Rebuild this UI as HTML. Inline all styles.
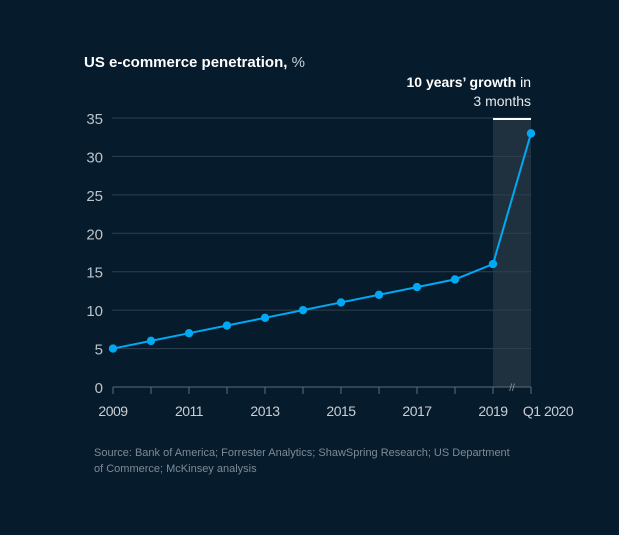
<!DOCTYPE html>
<html><head><meta charset="utf-8"><style>
body{margin:0;background:#061b2b;}
svg{display:block;font-family:"Liberation Sans",sans-serif;}
</style></head><body>
<svg width="619" height="535">
<rect width="619" height="535" fill="#061b2b"/>
<text x="84" y="67" fill="#fff" font-size="15" font-weight="bold">US e-commerce penetration,<tspan font-weight="normal" fill="#c9ced3"> %</tspan></text>
<text x="531" y="87" fill="#fff" font-size="14" text-anchor="end"><tspan font-weight="bold">10 years’ growth</tspan> in</text>
<text x="531" y="106" fill="#e6e9ec" font-size="14" text-anchor="end">3 months</text>
<g id="plot"></g>
<text x="94" y="456" fill="#7d8a95" font-size="11">Source: Bank of America; Forrester Analytics; ShawSpring Research; US Department</text>
<text x="94" y="472" fill="#7d8a95" font-size="11">of Commerce; McKinsey analysis</text>
</svg>
<script>
const categories=["2009","2010","2011","2012","2013","2014","2015","2016","2017","2018","2019","Q1 2020"];
const values=[5,6,7,8,9,10,11,12,13,14,16,33];
const yTicks=[0,5,10,15,20,25,30,35];
const xLabels=["2009","2011","2013","2015","2017","2019","Q1 2020"];
const NS="http://www.w3.org/2000/svg";
const g=document.getElementById('plot');
const x0=113,dx=38,y0=387,yTop=118,yMax=35;
const xs=i=>x0+i*dx;
const ys=v=>y0-(v/yMax)*(y0-yTop);
function mk(t,a){const e=document.createElementNS(NS,t);for(const k in a)e.setAttribute(k,a[k]);g.appendChild(e);return e;}
const n=categories.length;
let sh=mk('rect',{x:xs(n-2),y:yTop,width:dx,height:y0-yTop,fill:'#1f313f'});


yTicks.forEach(t=>{
 if(t>0){const l=mk('line',{x1:112,x2:xs(n-1),y1:ys(t),y2:ys(t),stroke:'#2f4150','stroke-width':1});
 
 }
 const tx=mk('text',{x:103,y:ys(t)+6,fill:'#bcc3c9','font-size':15,'text-anchor':'end'});
 tx.textContent=t;
 
 
});
let hl=mk('line',{x1:xs(n-2),x2:xs(n-1),y1:yTop+1,y2:yTop+1,stroke:'#fff','stroke-width':2});


let ax=mk('line',{x1:xs(0),x2:xs(n-1),y1:y0,y2:y0,stroke:'#5d6c78','stroke-width':1});


categories.forEach((c,i)=>{
 const tk=mk('line',{x1:xs(i),x2:xs(i),y1:y0,y2:y0+7,stroke:'#5d6c78','stroke-width':1});
 
 
 if(xLabels.includes(c)){
  const tx=mk('text',{x:xs(i)+(c==='Q1 2020'?17:0),y:416,fill:'#c9ced3','font-size':14,'text-anchor':'middle','letter-spacing':'-0.5'});
  tx.textContent=c;
  
  
 }
});
let br=mk('text',{x:(xs(n-2)+xs(n-1))/2,y:391,fill:'#8a98a3','font-size':10,'text-anchor':'middle'});
br.textContent='//';


let pl=mk('polyline',{points:values.map((v,i)=>xs(i)+','+ys(v)).join(' '),fill:'none',stroke:'#00a9f4','stroke-width':2});


values.forEach((v,i)=>{
 const c=mk('circle',{cx:xs(i),cy:ys(v),r:4.2,fill:'#00a9f4'});
 
 
});
</script>
</body></html>
